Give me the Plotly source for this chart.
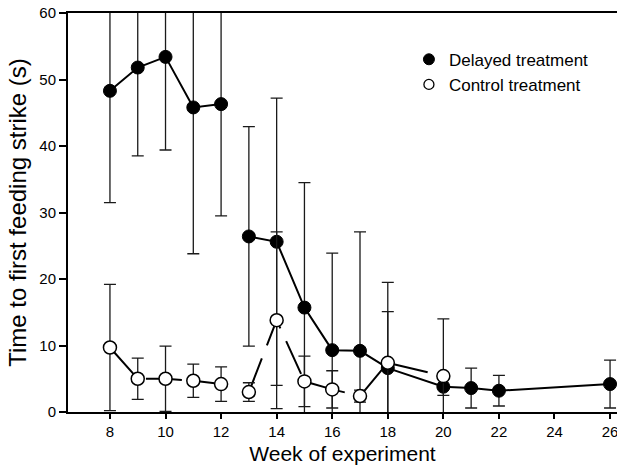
import plotly.graph_objects as go

# Delayed treatment (filled circles)
delayed_weeks = [8, 9, 10, 11, 12, 13, 14, 15, 16, 17, 18, 20, 21, 22, 26]
delayed_mean = [48.3, 51.8, 53.4, 45.8, 46.3, 26.4, 25.6, 15.7, 9.3, 9.2, 6.6, 3.8, 3.6, 3.2, 4.2]
delayed_err = [16.8, 13.3, 14.0, 22.0, 16.8, 16.5, 21.6, 18.8, 14.6, 17.9, 12.9, 1.3, 3.0, 2.3, 3.6]

# Control treatment (open circles)
control_weeks = [8, 9, 10, 11, 12, 13, 14, 15, 16, 17, 18, 20]
control_mean = [9.7, 5.0, 5.0, 4.7, 4.2, 3.0, 13.8, 4.6, 3.4, 2.4, 7.4, 5.4]
control_err = [9.5, 3.1, 4.9, 2.5, 2.6, 1.4, 13.3, 3.8, 2.8, 0.9, 7.7, 8.6]

# Treatment phase break (line not drawn across it)
phase_break_week = 12.5

x_ticks = [8, 10, 12, 14, 16, 18, 20, 22, 24, 26]
y_ticks = [0, 10, 20, 30, 40, 50, 60]

FONT = "Liberation Sans, Arial, sans-serif"


def split(weeks, vals):
    pre = [(w, v) for w, v in zip(weeks, vals) if w < phase_break_week]
    post = [(w, v) for w, v in zip(weeks, vals) if w > phase_break_week]
    return pre, post


fig = go.Figure()

# Delayed lines
for seg in split(delayed_weeks, delayed_mean):
    fig.add_trace(go.Scatter(
        x=[p[0] for p in seg], y=[p[1] for p in seg], mode="lines",
        line=dict(color="black", width=2), showlegend=False, hoverinfo="skip"))

# Delayed markers + error bars
fig.add_trace(go.Scatter(
    x=delayed_weeks, y=delayed_mean, mode="markers",
    marker=dict(symbol="circle", size=13, color="black", line=dict(color="black", width=1)),
    error_y=dict(type="data", array=delayed_err, visible=True, color="#1a1a1a", thickness=1.3, width=6),
    showlegend=False))

# Control lines (dashed)
for seg in split(control_weeks, control_mean):
    fig.add_trace(go.Scatter(
        x=[p[0] for p in seg], y=[p[1] for p in seg], mode="lines",
        line=dict(color="black", width=2, dash="36px,14px"), showlegend=False, hoverinfo="skip"))

# Control markers + error bars
fig.add_trace(go.Scatter(
    x=control_weeks, y=control_mean, mode="markers",
    marker=dict(symbol="circle", size=13, color="white", line=dict(color="black", width=1.5)),
    error_y=dict(type="data", array=control_err, visible=True, color="#1a1a1a", thickness=1.3, width=6),
    showlegend=False))

# Legend entries
fig.add_trace(go.Scatter(x=[None], y=[None], mode="markers", name="Delayed treatment",
                         marker=dict(symbol="circle", size=11, color="black", line=dict(color="black", width=1))))
fig.add_trace(go.Scatter(x=[None], y=[None], mode="markers", name="Control treatment",
                         marker=dict(symbol="circle", size=10, color="white", line=dict(color="black", width=1.3))))

fig.update_layout(
    width=617, height=465,
    margin=dict(l=68, r=0, t=13, b=53),
    paper_bgcolor="white", plot_bgcolor="white",
    font=dict(family=FONT, color="black"),
    showlegend=True,
    legend=dict(x=0.621, y=0.928, xanchor="left", yanchor="top",
                bgcolor="rgba(0,0,0,0)", font=dict(size=17, family=FONT),
                itemwidth=30, tracegroupgap=0),
    xaxis=dict(
        range=[6.49, 26.25], tickmode="array", tickvals=x_ticks,
        ticks="outside", ticklen=5, tickwidth=1.5, tickcolor="black",
        showline=True, linecolor="black", linewidth=2, mirror=True,
        showgrid=False, zeroline=False, ticklabeloverflow="allow",
        tickfont=dict(size=15, family=FONT),
        title=dict(text="Week of experiment", font=dict(size=21, family=FONT), standoff=8),
    ),
    yaxis=dict(
        range=[0, 60], tickmode="array", tickvals=y_ticks,
        ticks="outside", ticklen=7, tickwidth=1.5, tickcolor="black",
        showline=True, linecolor="black", linewidth=2,
        showgrid=False, zeroline=False,
        tickfont=dict(size=15, family=FONT),
        title=dict(text="Time to first feeding strike (s)", font=dict(size=24, family=FONT), standoff=6),
    ),
)

fig.write_html("out.html")
